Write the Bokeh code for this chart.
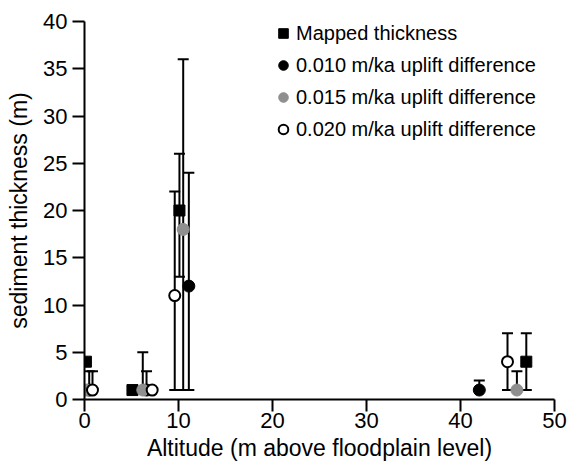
from bokeh.plotting import figure
from bokeh.models import (ColumnDataSource, Range1d, Whisker, TeeHead, Legend,
                          LegendItem, FixedTicker)
from bokeh.embed import file_html
from bokeh.resources import INLINE

# ---- data ----
mapped_x = [0.15, 5.1, 10.1, 47]
mapped_y = [4, 1, 20, 4]
mapped_lo = [4, 1, 13, 1]
mapped_hi = [4, 1, 26, 7]

u010_x = [0.5, 6.6, 11.1, 42]
u010_y = [1, 1, 12, 1]
u010_lo = [1, 1, 1, 1]
u010_hi = [3, 3, 24, 2]

u015_x = [0.2, 6.2, 10.5, 46]
u015_y = [1, 1, 18, 1]
u015_lo = [1, 1, 1, 1]
u015_hi = [1, 5, 36, 3]

u020_x = [0.85, 7.2, 9.6, 45]
u020_y = [1, 1, 11, 4]
u020_lo = [1, 1, 1, 1]
u020_hi = [3, 1, 22, 7]

x_ticks = [0, 10, 20, 30, 40, 50]
y_ticks = [0, 5, 10, 15, 20, 25, 30, 35, 40]

labels = ["Mapped thickness", "0.010 m/ka uplift difference",
          "0.015 m/ka uplift difference", "0.020 m/ka uplift difference"]

FONT = "Liberation Sans"
GRAY = "#8f8f8f"

p = figure(frame_width=470, frame_height=378, output_backend="svg",
           toolbar_location=None, x_range=Range1d(0, 50), y_range=Range1d(0, 40),
           min_border_left=84, min_border_top=21, min_border_right=17,
           min_border_bottom=76)
p.outline_line_color = None
p.xgrid.visible = False
p.ygrid.visible = False
p.background_fill_color = "white"

for ax in (p.xaxis[0], p.yaxis[0]):
    ax.axis_line_width = 2
    ax.axis_line_color = "black"
    ax.major_tick_line_width = 2
    ax.major_tick_line_color = "black"
    ax.major_tick_out = 12
    ax.major_tick_in = 0
    ax.minor_tick_line_color = None
    ax.major_label_text_font = FONT
    ax.major_label_text_font_size = "22px"
    ax.major_label_text_color = "black"
    ax.axis_label_text_font = FONT
    ax.axis_label_text_font_size = "23px"
    ax.axis_label_text_font_style = "normal"
    ax.axis_label_text_color = "black"

p.xaxis[0].ticker = FixedTicker(ticks=x_ticks)
p.yaxis[0].ticker = FixedTicker(ticks=y_ticks)
p.xaxis[0].axis_label = "Altitude (m above floodplain level)"
p.yaxis[0].axis_label = "sediment thickness (m)"
p.xaxis[0].major_label_standoff = 1
p.yaxis[0].major_label_standoff = 5
p.xaxis[0].axis_label_standoff = 4
p.yaxis[0].axis_label_standoff = 8

series = [
    (mapped_x, mapped_y, mapped_lo, mapped_hi),
    (u010_x, u010_y, u010_lo, u010_hi),
    (u015_x, u015_y, u015_lo, u015_hi),
    (u020_x, u020_y, u020_lo, u020_hi),
]

# error bars first (beneath markers)
for xs, ys, lo, hi in series:
    keep = [i for i in range(len(xs)) if hi[i] != lo[i]]
    src = ColumnDataSource(dict(x=[xs[i] for i in keep],
                                lo=[lo[i] for i in keep],
                                hi=[hi[i] for i in keep]))
    w = Whisker(base="x", lower="lo", upper="hi", source=src, dimension="height",
                line_color="black", line_width=2,
                upper_head=TeeHead(size=11, line_width=2, line_color="black"),
                lower_head=TeeHead(size=11, line_width=2, line_color="black"))
    p.add_layout(w)

r_map = p.scatter(mapped_x, mapped_y, marker="square", size=11,
                  fill_color="black", line_color="black", line_width=1)
r_010 = p.scatter(u010_x, u010_y, marker="circle", size=12,
                  fill_color="black", line_color="black", line_width=1)
r_015 = p.scatter(u015_x, u015_y, marker="circle", size=12,
                  fill_color=GRAY, line_color=GRAY, line_width=1)
r_020 = p.scatter(u020_x, u020_y, marker="circle", size=11,
                  fill_color="white", line_color="black", line_width=2)

legend = Legend(items=[LegendItem(label=labels[0], renderers=[r_map]),
                       LegendItem(label=labels[1], renderers=[r_010]),
                       LegendItem(label=labels[2], renderers=[r_015]),
                       LegendItem(label=labels[3], renderers=[r_020])],
                location=(187, 258), padding=0, margin=0, spacing=8,
                label_height=24, glyph_height=24, glyph_width=24,
                label_standoff=1, border_line_color=None,
                background_fill_alpha=0,
                label_text_font=FONT, label_text_font_size="20px",
                label_text_color="black")
p.add_layout(legend)

open("out.html", "w").write(file_html(p, INLINE))
